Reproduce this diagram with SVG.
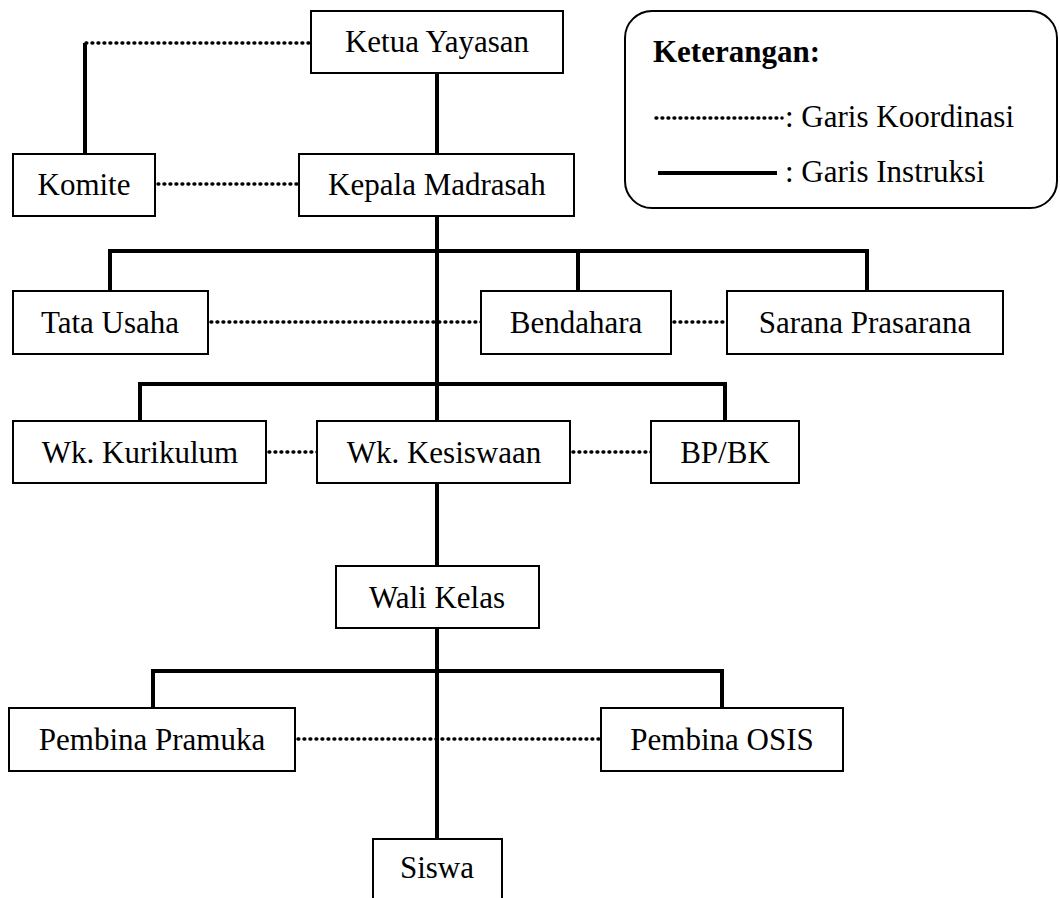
<svg xmlns="http://www.w3.org/2000/svg" width="1060" height="898" viewBox="0 0 1060 898">
<style>
.box{fill:#fff;stroke:#000;stroke-width:2}
.t{font-family:"Liberation Serif","Times New Roman",serif;font-size:31px;fill:#000;text-anchor:middle}
.lt{font-family:"Liberation Serif","Times New Roman",serif;font-size:31px;fill:#000}
.solid{stroke:#000;stroke-width:4;fill:none}
.dot{stroke:#000;stroke-width:3.5;stroke-linecap:round;stroke-dasharray:0.8 5.2;fill:none}
</style>
<rect width="1060" height="898" fill="#fff"/>
<g id="connectors">
<path class="solid" d="M437 73V839"/>
<path class="solid" d="M85 43V154"/>
<path class="dot" d="M86 43H311"/>
<path class="dot" d="M158 184H299"/>
<path class="solid" d="M110 291V251H867V291M578 251V291"/>
<path class="dot" d="M211 322H481"/>
<path class="dot" d="M674 322H727"/>
<path class="solid" d="M140 421V384H725V421"/>
<path class="dot" d="M269 452H317"/>
<path class="dot" d="M573 452H651"/>
<path class="solid" d="M153 708V671H722V708"/>
<path class="dot" d="M298 739H601"/>
</g>
<g id="ketua"><rect class="box" x="311" y="11" width="252" height="62"/><text class="t" x="437" y="52">Ketua Yayasan</text></g>
<g id="komite"><rect class="box" x="13" y="154" width="142" height="62"/><text class="t" x="84" y="195">Komite</text></g>
<g id="kepala"><rect class="box" x="299" y="154" width="275" height="62"/><text class="t" x="437" y="195">Kepala Madrasah</text></g>
<g id="tatausaha"><rect class="box" x="13" y="291" width="195" height="63"/><text class="t" x="110" y="333">Tata Usaha</text></g>
<g id="bendahara"><rect class="box" x="481" y="291" width="190" height="63"/><text class="t" x="576" y="333">Bendahara</text></g>
<g id="sarana"><rect class="box" x="727" y="291" width="276" height="63"/><text class="t" x="865" y="333">Sarana Prasarana</text></g>
<g id="kurikulum"><rect class="box" x="13" y="421" width="253" height="62"/><text class="t" x="140" y="463">Wk. Kurikulum</text></g>
<g id="kesiswaan"><rect class="box" x="317" y="421" width="253" height="62"/><text class="t" x="444" y="463">Wk. Kesiswaan</text></g>
<g id="bpbk"><rect class="box" x="651" y="421" width="148" height="62"/><text class="t" x="725" y="463">BP/BK</text></g>
<g id="walikelas"><rect class="box" x="336" y="566" width="203" height="62"/><text class="t" x="437" y="608">Wali Kelas</text></g>
<g id="pramuka"><rect class="box" x="9" y="708" width="286" height="63"/><text class="t" x="152" y="750">Pembina Pramuka</text></g>
<g id="osis"><rect class="box" x="601" y="708" width="242" height="63"/><text class="t" x="722" y="750">Pembina OSIS</text></g>
<g id="siswa"><rect class="box" x="373" y="839" width="129" height="80"/><text class="t" x="437" y="878">Siswa</text></g>
<g id="legend">
<rect x="625" y="11" width="432" height="197" rx="27" ry="27" fill="#fff" stroke="#000" stroke-width="2"/>
<text class="lt" x="653" y="62" font-weight="bold">Keterangan:</text>
<path class="dot" d="M656 118H782" stroke-width="2.4" stroke-dasharray="0.6 4"/>
<text class="lt" x="785" y="127">: Garis Koordinasi</text>
<path class="solid" d="M658 173H777"/>
<text class="lt" x="785" y="182">: Garis Instruksi</text>
</g>
</svg>
